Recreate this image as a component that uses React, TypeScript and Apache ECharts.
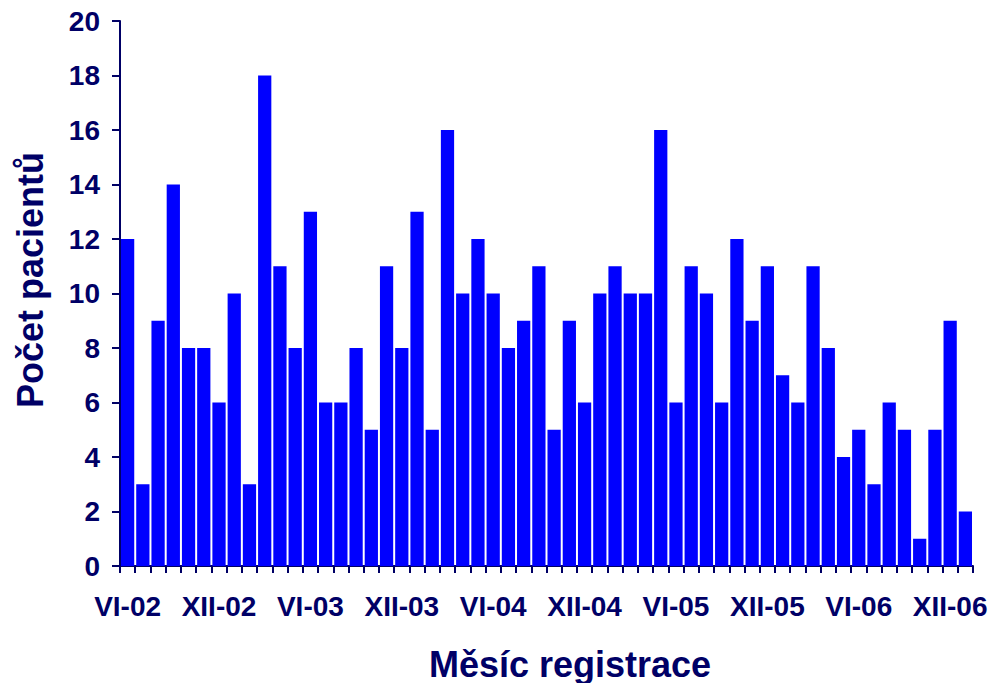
import React, { useEffect, useRef } from "react";
import * as echarts from "echarts";

const categories: string[] = [
  "VI-02", "VII-02", "VIII-02", "IX-02", "X-02", "XI-02",
  "XII-02", "I-03", "II-03", "III-03", "IV-03", "V-03",
  "VI-03", "VII-03", "VIII-03", "IX-03", "X-03", "XI-03",
  "XII-03", "I-04", "II-04", "III-04", "IV-04", "V-04",
  "VI-04", "VII-04", "VIII-04", "IX-04", "X-04", "XI-04",
  "XII-04", "I-05", "II-05", "III-05", "IV-05", "V-05",
  "VI-05", "VII-05", "VIII-05", "IX-05", "X-05", "XI-05",
  "XII-05", "I-06", "II-06", "III-06", "IV-06", "V-06",
  "VI-06", "VII-06", "VIII-06", "IX-06", "X-06", "XI-06",
  "XII-06", "I-07",
];

const patients: number[] = [
  12, 3, 9, 14, 8, 8, 6, 10, 3, 18, 11, 8, 13, 6, 6, 8, 5, 11,
  8, 13, 5, 16, 10, 12, 10, 8, 9, 11, 5, 9, 6, 10, 11, 10, 10, 16,
  6, 11, 10, 6, 12, 9, 11, 7, 6, 11, 8, 4, 5, 3, 6, 5, 1, 5, 9, 2,
];

const yTitle = "Počet pacientů";
const xTitle = "Měsíc registrace";

const NAVY = "#000066";
const FONT = "'Liberation Sans', Arial, sans-serif";

export default function App() {
  const ref = useRef<HTMLDivElement>(null);
  useEffect(() => {
    document.body.style.margin = "0";
    const chart = echarts.init(ref.current!, undefined, { renderer: "svg" });
    chart.setOption({
      animation: false,
      grid: { left: 120, right: 19, top: 21, bottom: 117, containLabel: false },
      xAxis: {
        type: "category",
        data: categories,
        boundaryGap: true,
        axisLine: { show: true, lineStyle: { color: NAVY, width: 2 } },
        axisTick: { show: true, interval: 0, length: 7, lineStyle: { color: NAVY, width: 2 } },
        axisLabel: {
          interval: 5,
          color: NAVY,
          fontFamily: FONT,
          fontWeight: "bold",
          fontSize: 28,
          margin: 26,
        },
      },
      yAxis: {
        type: "value",
        min: 0,
        max: 20,
        interval: 2,
        splitLine: { show: false },
        axisLine: { show: true, lineStyle: { color: NAVY, width: 2 } },
        axisTick: { show: true, length: 8, lineStyle: { color: NAVY, width: 2 } },
        axisLabel: {
          color: NAVY,
          fontFamily: FONT,
          fontWeight: "bold",
          fontSize: 28,
          margin: 20,
        },
      },
      series: [
        {
          type: "bar",
          data: patients,
          barCategoryGap: "13%",
          itemStyle: { color: "#0000FF" },
        },
      ],
      graphic: [
        {
          type: "text",
          x: 30,
          y: 280,
          rotation: Math.PI / 2,
          style: {
            text: yTitle,
            fill: NAVY,
            font: `bold 36px ${FONT}`,
            textAlign: "center",
            textVerticalAlign: "middle",
          },
        },
        {
          type: "text",
          x: 570,
          y: 664,
          style: {
            text: xTitle,
            fill: NAVY,
            font: `bold 36px ${FONT}`,
            textAlign: "center",
            textVerticalAlign: "middle",
          },
        },
      ],
    });
    return () => chart.dispose();
  }, []);
  return <div ref={ref} style={{ width: 992, height: 683 }} />;
}
